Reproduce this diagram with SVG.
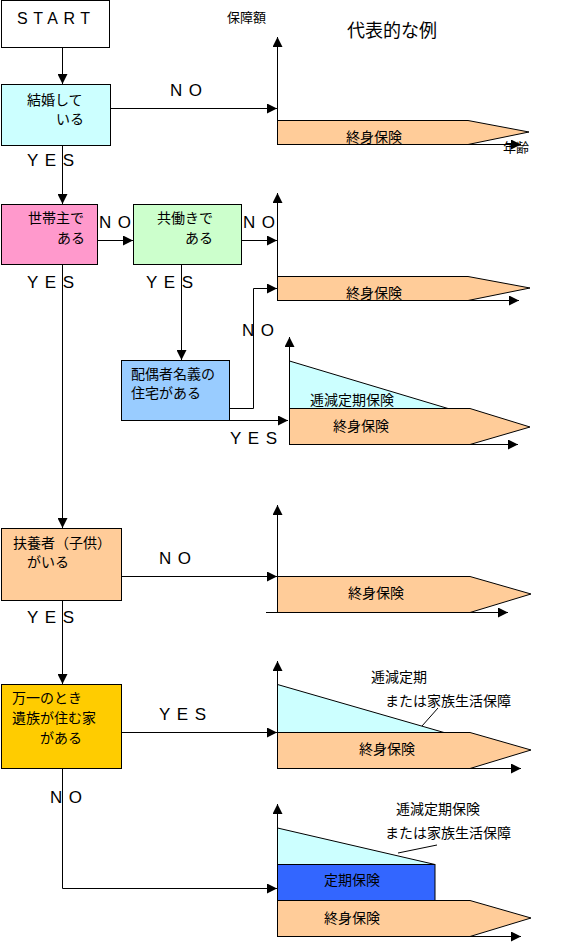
<svg xmlns="http://www.w3.org/2000/svg" width="578" height="944" viewBox="0 0 578 944">
<defs>
<marker id="ah" viewBox="0 0 10 10" refX="10" refY="5" markerWidth="10" markerHeight="10" markerUnits="userSpaceOnUse" orient="auto"><path d="M0,0L10,5L0,10z" fill="#000"/></marker>
<style>
.bx{stroke:#000;stroke-width:1}
.ln{fill:none;stroke:#000;stroke-width:1}
.ar{fill:none;stroke:#000;stroke-width:1;marker-end:url(#ah)}
.jp{font-family:"Noto Sans CJK JP","Noto Sans",sans-serif;font-size:14px;fill:#000}
.lt{font-family:"Liberation Sans",Arial,sans-serif;font-size:17px;letter-spacing:6.5px;fill:#000}
.or{fill:#FFCC99;stroke:#000;stroke-width:1}
.cy{fill:#CCFFFF;stroke:#000;stroke-width:1}
</style>
</defs>
<rect width="578" height="944" fill="#fff"/>

<g id="title">
<text class="jp" x="227" y="22" style="font-size:13px">保障額</text>
<text class="jp" x="347" y="37" style="font-size:18px">代表的な例</text>
</g>

<g id="start">
<rect class="bx" x="1.5" y="0.5" width="108" height="47" fill="#fff"/>
<text x="17" y="24" style="font-family:'Liberation Sans',Arial,sans-serif;font-size:16px;letter-spacing:5.5px">START</text>
</g>

<g id="married">
<rect class="bx" x="1.5" y="84.5" width="109" height="61" fill="#CCFFFF"/>
<text class="jp" x="27" y="105">結婚して</text>
<text class="jp" x="56" y="124">いる</text>
</g>

<g id="head">
<rect class="bx" x="1.5" y="204.5" width="96" height="60" fill="#FF99CC"/>
<text class="jp" x="28" y="223">世帯主で</text>
<text class="jp" x="57" y="243">ある</text>
</g>

<g id="dualincome">
<rect class="bx" x="133.5" y="204.5" width="108" height="60" fill="#CCFFCC"/>
<text class="jp" x="157" y="223">共働きで</text>
<text class="jp" x="185" y="243">ある</text>
</g>

<g id="spousehouse">
<rect class="bx" x="121.5" y="360.5" width="108" height="60" fill="#99CCFF"/>
<text class="jp" x="131" y="379">配偶者名義の</text>
<text class="jp" x="131" y="398">住宅がある</text>
</g>

<g id="dependents">
<rect class="bx" x="1.5" y="528.5" width="120" height="72" fill="#FFCC99"/>
<text class="jp" x="13" y="548">扶養者（子供）</text>
<text class="jp" x="27" y="567">がいる</text>
</g>

<g id="familyhouse">
<rect class="bx" x="1.5" y="684.5" width="120" height="84" fill="#FFCC00"/>
<text class="jp" x="12" y="703">万一のとき</text>
<text class="jp" x="12" y="723">遺族が住む家</text>
<text class="jp" x="40" y="743">がある</text>
</g>

<g id="connectors">
<path class="ar" d="M62.5,48V84"/>
<path class="ar" d="M110,108.5H277"/>
<path class="ar" d="M62.5,145V204"/>
<path class="ar" d="M97,240.5H133"/>
<path class="ar" d="M241,240.5H277"/>
<path class="ar" d="M181.5,264V360"/>
<path class="ar" d="M229,408.5H253.5V288.5H277"/>
<path class="ar" d="M229,420.5H288"/>
<path class="ar" d="M62.5,264V528"/>
<path class="ar" d="M121,576.5H277"/>
<path class="ar" d="M62.5,600V684"/>
<path class="ar" d="M121,732.5H277"/>
<path class="ar" d="M62.5,768V888.5H277"/>
</g>

<g id="labels">
<text class="lt" x="170" y="96">NO</text>
<text class="lt" x="27" y="166">YES</text>
<text class="lt" x="99" y="228">NO</text>
<text class="lt" x="243" y="228">NO</text>
<text class="lt" x="27" y="288">YES</text>
<text class="lt" x="146" y="288">YES</text>
<text class="lt" x="242" y="336">NO</text>
<text class="lt" x="230" y="444">YES</text>
<text class="lt" x="159" y="564">NO</text>
<text class="lt" x="27" y="623">YES</text>
<text class="lt" x="159" y="720">YES</text>
<text class="lt" x="50" y="803">NO</text>
</g>

<g id="chart1">
<polygon class="or" points="277.5,120.5 468,120.5 529,132 468,144.5 277.5,144.5"/>
<path class="ar" d="M277.5,145V37"/>
<path class="ar" d="M277.5,144.5H521"/>
<text class="jp" x="346" y="142">終身保険</text>
<text class="jp" x="503" y="152" style="font-size:13px">年齢</text>
</g>

<g id="chart2">
<polygon class="or" points="277.5,276.5 468,276.5 530,288 468,300.5 277.5,300.5"/>
<path class="ar" d="M277.5,301V193"/>
<path class="ar" d="M277.5,300.5H519"/>
<text class="jp" x="346" y="298">終身保険</text>
</g>

<g id="chart3">
<polygon class="cy" points="289.5,361 448,408.5 289.5,408.5"/>
<polygon class="or" points="289.5,408.5 470,408.5 530,427 470,444.5 289.5,444.5"/>
<path class="ar" d="M289.5,445V337"/>
<path class="ar" d="M289.5,444.5H518"/>
<text class="jp" x="310" y="405">逓減定期保険</text>
<text class="jp" x="333" y="431">終身保険</text>
</g>

<g id="chart4">
<polygon class="or" points="277.5,576.5 470,576.5 531,594 470,612.5 277.5,612.5"/>
<path class="ar" d="M277.5,613V505"/>
<path class="ar" d="M266,612.5H508"/>
<text class="jp" x="348" y="598">終身保険</text>
</g>

<g id="chart5">
<polygon class="cy" points="277.5,684.5 444,732.5 277.5,732.5"/>
<polygon class="or" points="277.5,732.5 470,732.5 531,750 470,768.5 277.5,768.5"/>
<path class="ar" d="M277.5,769V661"/>
<path class="ar" d="M277.5,768.5H521"/>
<path class="ln" d="M438,708L422,726"/>
<text class="jp" x="371" y="682">逓減定期</text>
<text class="jp" x="385" y="706">または家族生活保障</text>
<text class="jp" x="359" y="754">終身保険</text>
</g>

<g id="chart6">
<polygon class="cy" points="277.5,828 435,864.5 277.5,864.5"/>
<rect class="bx" x="277.5" y="864.5" width="157.5" height="36" fill="#3366FF"/>
<polygon class="or" points="277.5,900.5 470,900.5 531,918 470,936.5 277.5,936.5"/>
<path class="ar" d="M277.5,937V804"/>
<path class="ar" d="M277.5,936.5H521"/>
<path class="ln" d="M437,845L398,853"/>
<text class="jp" x="396" y="814">逓減定期保険</text>
<text class="jp" x="385" y="838">または家族生活保障</text>
<text class="jp" x="324" y="885">定期保険</text>
<text class="jp" x="324" y="923">終身保険</text>
</g>
</svg>
